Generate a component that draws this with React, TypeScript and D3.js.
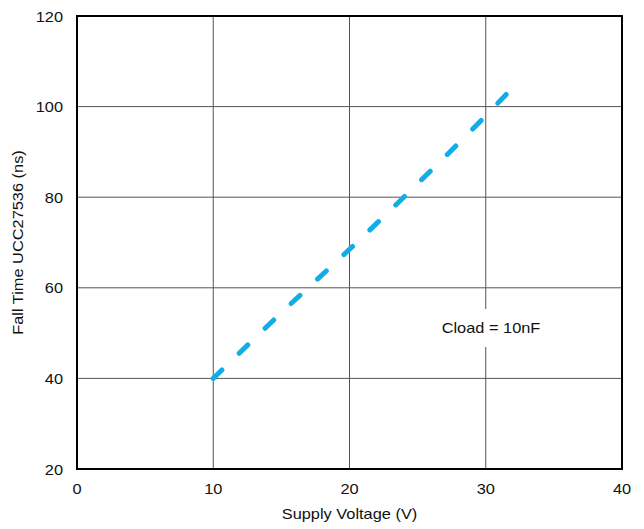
import React from "react";
import * as d3 from "d3";

const voltage = [10, 15, 20, 25, 30, 31.6];
const fallTime = [40, 54.5, 68.5, 83, 98, 103];
const xTicks = [0, 10, 20, 30, 40];
const yTicks = [20, 40, 60, 80, 100, 120];
const annotation = "Cload = 10nF";
const xTitle = "Supply Voltage (V)";
const yTitle = "Fall Time UCC27536 (ns)";

const W = 644;
const H = 529;
const M = { left: 77, right: 622, top: 16, bottom: 469 };
const SX = 1.17;

function Label(props: { x: number; y: number; anchor: string; text: string | number; rotate?: number }) {
  const rot = props.rotate ? ` rotate(${props.rotate})` : "";
  return (
    <text
      transform={`translate(${props.x},${props.y})${rot} scale(${SX},1)`}
      fontSize={14}
      textAnchor={props.anchor}
      fill="#111"
    >
      {props.text}
    </text>
  );
}

export default function App() {
  const x = d3.scaleLinear().domain([0, 40]).range([M.left, M.right]);
  const y = d3.scaleLinear().domain([20, 120]).range([M.bottom, M.top]);
  const pts = voltage.map((v, i) => [v, fallTime[i]] as [number, number]);
  const line = d3
    .line<[number, number]>()
    .x((d) => x(d[0]))
    .y((d) => y(d[1]))
    .curve(d3.curveMonotoneX);
  const font = "Arial, 'Liberation Sans', sans-serif";
  return (
    <svg
      width={W}
      height={H}
      style={{ position: "absolute", left: 0, top: 0, background: "#fff" }}
      fontFamily={font}
    >
      <rect x={0} y={0} width={W} height={H} fill="#fff" />
      {xTicks.slice(1, -1).map((t) => (
        <line key={"gx" + t} x1={x(t)} x2={x(t)} y1={M.top} y2={M.bottom} stroke="#555" strokeWidth={1} />
      ))}
      {yTicks.slice(1, -1).map((t) => (
        <line key={"gy" + t} x1={M.left} x2={M.right} y1={y(t)} y2={y(t)} stroke="#555" strokeWidth={1} />
      ))}
      <rect x={436} y={309} width={108} height={38} fill="#fff" />
      <Label x={491} y={333} anchor="middle" text={annotation} />
      <path
        d={line(pts) || ""}
        fill="none"
        stroke="#12ade9"
        strokeWidth={5}
        strokeLinecap="round"
        strokeDasharray="12,24"
      />
      <rect
        x={M.left}
        y={M.top}
        width={M.right - M.left}
        height={M.bottom - M.top}
        fill="none"
        stroke="#000"
        strokeWidth={2}
      />
      {xTicks.map((t) => (
        <Label key={"xt" + t} x={x(t)} y={494} anchor="middle" text={t} />
      ))}
      {yTicks.map((t) => (
        <Label key={"yt" + t} x={63} y={y(t) + 5.5} anchor="end" text={t} />
      ))}
      <Label x={(M.left + M.right) / 2} y={519} anchor="middle" text={xTitle} />
      <Label x={23} y={(M.top + M.bottom) / 2} anchor="middle" text={yTitle} rotate={-90} />
    </svg>
  );
}
